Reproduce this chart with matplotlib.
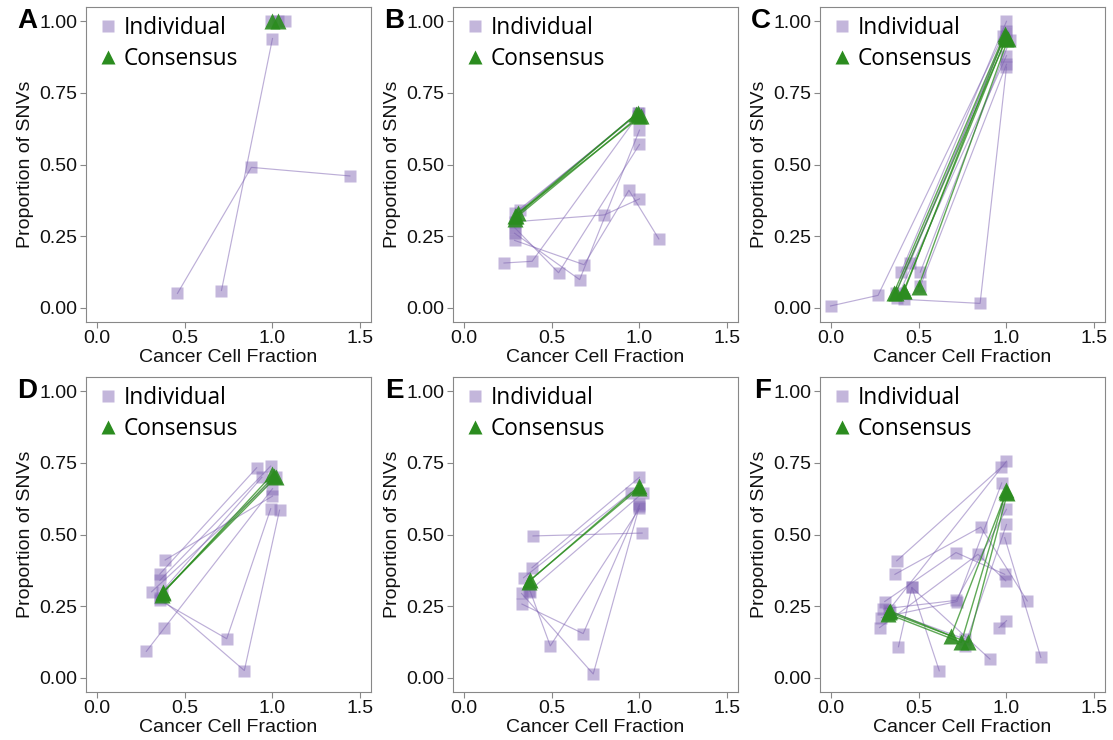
import matplotlib
matplotlib.use("Agg")
import matplotlib.pyplot as plt
import matplotlib.transforms as mtransforms
from matplotlib.lines import Line2D

# Pontos (CCF, proporção de SNVs) — cada lista interna é uma linha ligando clusters
a_ind = [
    [(0.46, 0.05), (0.88, 0.49), (1.44, 0.46)],
    [(0.71, 0.06), (1.00, 0.94)],
    [(0.99, 1.00)], [(1.03, 1.00)], [(1.07, 1.00)],
]
a_cons = [[(1.00, 1.00)], [(1.03, 1.00)]]

b_ind = [
    [(0.23, 0.156), (0.39, 0.162), (0.99, 0.67)],
    [(0.29, 0.26), (0.66, 0.098), (1.00, 0.62)],
    [(0.29, 0.235), (0.685, 0.15), (0.94, 0.41), (1.11, 0.24)],
    [(0.29, 0.30), (0.80, 0.324), (1.00, 0.38)],
    [(0.29, 0.28), (0.54, 0.122), (1.00, 0.57)],
    [(0.29, 0.33), (1.00, 0.68)],
    [(0.32, 0.34), (0.99, 0.68)],
]
b_cons = [
    [(0.29, 0.31), (1.00, 0.67)],
    [(0.30, 0.32), (0.99, 0.68)],
    [(0.31, 0.33), (1.01, 0.67)],
    [(0.29, 0.32), (0.98, 0.675)],
]

c_ind = [
    [(0.00, 0.006), (0.27, 0.043), (0.98, 0.95)],
    [(0.42, 0.029), (0.85, 0.015), (1.00, 0.84)],
    [(0.38, 0.035), (1.00, 0.88)],
    [(0.40, 0.124), (1.00, 1.00)],
    [(0.45, 0.156), (1.00, 0.965)],
    [(0.51, 0.124), (1.02, 0.935)],
    [(0.51, 0.075), (1.00, 0.85)],
    [(0.37, 0.05), (1.00, 0.96)],
]
c_cons = [
    [(0.36, 0.052), (0.99, 0.955)],
    [(0.415, 0.058), (1.00, 0.945)],
    [(0.50, 0.073), (1.01, 0.94)],
    [(0.37, 0.05), (1.00, 0.94)],
    [(0.42, 0.06), (0.99, 0.95)],
]

d_ind = [
    [(0.283, 0.092), (0.385, 0.173), (1.00, 0.66)],
    [(0.36, 0.27), (0.74, 0.136), (0.99, 0.59)],
    [(0.36, 0.28), (0.84, 0.025), (1.04, 0.585)],
    [(0.39, 0.411), (1.00, 0.634)],
    [(0.36, 0.362), (0.91, 0.733)],
    [(0.36, 0.34), (0.99, 0.739)],
    [(0.313, 0.30), (1.02, 0.70)],
    [(0.37, 0.30), (0.94, 0.70)],
]
d_cons = [
    [(0.375, 0.297), (1.01, 0.704)],
    [(0.37, 0.29), (1.00, 0.71)],
    [(0.38, 0.30), (1.02, 0.70)],
]

e_ind = [
    [(0.395, 0.495), (1.015, 0.505)],
    [(0.332, 0.257), (0.68, 0.154), (1.00, 0.605)],
    [(0.38, 0.30), (0.493, 0.111), (1.00, 0.591)],
    [(0.33, 0.294), (0.737, 0.013), (1.00, 0.60)],
    [(0.389, 0.384), (1.00, 0.70)],
    [(0.341, 0.349), (0.95, 0.646)],
    [(0.374, 0.303), (1.02, 0.646)],
]
e_cons = [
    [(0.377, 0.340), (1.00, 0.663)],
    [(0.37, 0.335), (1.00, 0.67)],
]

f_ind = [
    [(0.376, 0.408), (0.97, 0.735)],
    [(0.366, 0.361), (0.854, 0.526), (1.118, 0.268)],
    [(0.308, 0.266), (0.713, 0.437), (0.99, 0.361)],
    [(0.386, 0.108), (0.462, 0.315), (0.906, 0.065)],
    [(0.289, 0.21), (0.719, 0.266), (0.973, 0.68)],
    [(0.279, 0.175), (0.838, 0.431), (0.996, 0.338)],
    [(0.462, 0.315), (0.618, 0.024)],
    [(0.99, 0.489), (1.195, 0.071)],
    [(0.958, 0.175), (1.00, 0.199)],
    [(0.33, 0.235), (1.00, 0.756)],
    [(0.30, 0.24), (0.713, 0.27), (1.00, 0.588)],
    [(0.763, 0.111), (1.00, 0.535)],
    [(0.34, 0.23), (0.763, 0.135)],
]
f_cons = [
    [(0.338, 0.233), (0.685, 0.146), (1.00, 0.649)],
    [(0.328, 0.222), (0.743, 0.123), (1.00, 0.655)],
    [(0.333, 0.228), (0.782, 0.123), (1.005, 0.645)],
]

panels = [("A", a_ind, a_cons), ("B", b_ind, b_cons), ("C", c_ind, c_cons),
          ("D", d_ind, d_cons), ("E", e_ind, e_cons), ("F", f_ind, f_cons)]

x_ticks = [0.0, 0.5, 1.0, 1.5]
y_ticks = [0.0, 0.25, 0.5, 0.75, 1.0]

purple = "#7b5fb0"
green = "#2b8c1f"
tick_font = "Liberation Sans"

fig = plt.figure(figsize=(11.13, 7.40), dpi=100)

lefts = [86, 453, 820]
tops = [7, 377]
W, H = 1113, 740

for i, (letter, ind, cons) in enumerate(panels):
    r, c = divmod(i, 3)
    ax = fig.add_axes([lefts[c] / W, 1 - (tops[r] + 315) / H, 285 / W, 315 / H])

    for seg in ind:
        xs = [p[0] for p in seg]
        ys = [p[1] for p in seg]
        ax.plot(xs, ys, color=purple, alpha=0.5, lw=0.85, zorder=2)
        ax.plot(xs, ys, ls="none", marker="s", ms=9, color=purple,
                alpha=0.45, mec="none", zorder=3)
    for seg in cons:
        xs = [p[0] for p in seg]
        ys = [p[1] for p in seg]
        ax.plot(xs, ys, color=green, alpha=0.75, lw=1.0, zorder=4)
        ax.plot(xs, ys, ls="none", marker="^", ms=11, color=green,
                alpha=0.9, mec="none", zorder=5)

    ax.set_xlim(-0.06, 1.56)
    ax.set_ylim(-0.05, 1.05)
    ax.set_xticks(x_ticks)
    ax.set_xticklabels([f"{t:.1f}" for t in x_ticks])
    ax.set_yticks(y_ticks)
    ax.set_yticklabels([f"{t:.2f}" for t in y_ticks])
    ax.tick_params(direction="out", length=4, color="#888888", width=0.8,
                   labelsize=14, pad=2, labelcolor="#111111")
    for lab in ax.get_xticklabels() + ax.get_yticklabels():
        lab.set_family(tick_font)
    for sp in ax.spines.values():
        sp.set_color("#888888")
        sp.set_linewidth(0.8)

    ax.set_xlabel("Cancer Cell Fraction", fontsize=14, family=tick_font,
                  labelpad=1, color="#111111")
    ax.set_ylabel("Proportion of SNVs", fontsize=14, family=tick_font,
                  labelpad=4, color="#111111")

    handles = [
        Line2D([], [], ls="none", marker="s", ms=8.5, color=purple, alpha=0.45, mec="none"),
        Line2D([], [], ls="none", marker="^", ms=10.5, color=green, mec="none"),
    ]
    ax.legend(handles, ["Individual", "Consensus"], loc="upper left", frameon=False,
              prop={"family": "Open Sans", "size": 16.3}, handletextpad=0.15,
              handlelength=1.1, labelspacing=0.3, borderaxespad=0.1,
              borderpad=0.3)

    # letra do painel à esquerda do rótulo "1.00"
    trans = mtransforms.blended_transform_factory(ax.transAxes, ax.transData)
    ax.text(-0.172, 1.0, letter, transform=trans, fontsize=20,
            fontweight="bold", family=tick_font, ha="right", va="center")

fig.savefig("out.png", dpi=100)
plt.close()
